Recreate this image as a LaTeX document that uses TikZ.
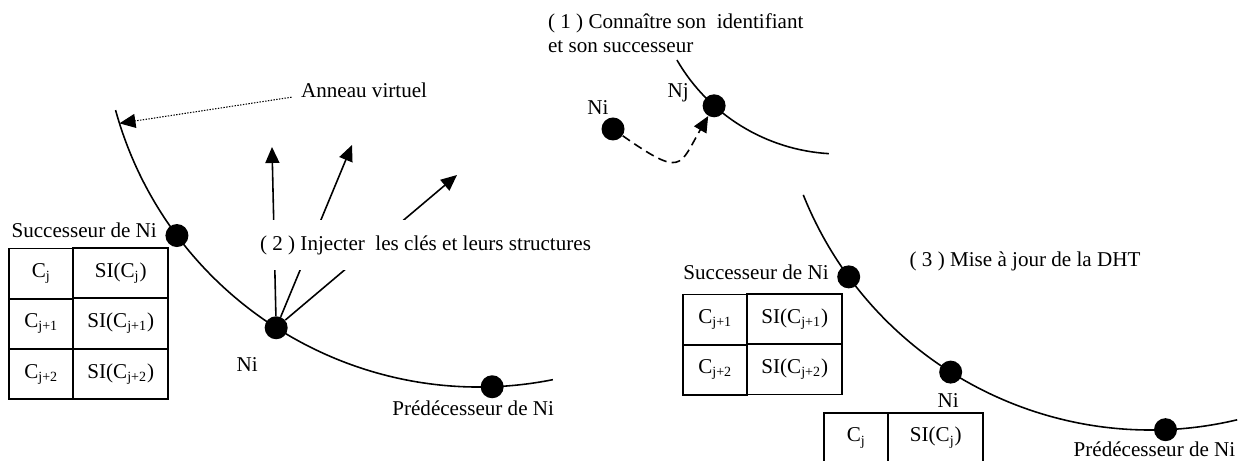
\documentclass[tikz,border=0pt]{standalone}
\usepackage{fontspec}
\setmainfont{Liberation Serif}
\usetikzlibrary{arrows.meta,positioning,calc,matrix}

\begin{document}
\begin{tikzpicture}[
  font=\fontsize{12}{13.8}\selectfont,
  ring/.style={line width=0.9pt},
  dot/.style={circle,fill=black,inner sep=0pt,minimum size=0.46cm},
  lbl/.style={inner sep=1pt},
  arrow/.style={-{Triangle[length=0.32cm,width=0.28cm]},line width=0.9pt},
  dasharrow/.style={arrow,dash pattern=on 5pt off 3pt},
  dotarrow/.style={arrow,line width=0.6pt,dash pattern=on 0.8pt off 0.8pt},
  keytable/.style={matrix of nodes,inner sep=0pt,column sep=-1pt,row sep=-1pt,
    nodes={draw,line width=1pt,minimum height=1cm,inner sep=0pt},
    column 1/.style={nodes={minimum width=1.28cm}},
    column 2/.style={nodes={minimum width=1.9cm}}}
]
  \useasboundingbox (0,0) rectangle (24.78,9.22);
  \clip (0,0) rectangle (24.78,9.22);

  % left: ring while Ni joins
  \coordinate (ringA) at (9.58,9.02);
  \draw[ring] ($(ringA)+(195.4:7.54)$) arc[start angle=195.4,end angle=281.3,radius=7.54];
  \coordinate (ringtop) at ($(ringA)+(197.5:7.54)$);
  \node[dot] (succA) at ($(ringA)+(216.75:7.54)$) {};
  \node[dot] (niA) at ($(ringA)+(237.45:7.54)$) {};
  \node[dot] (predA) at ($(ringA)+(272:7.54)$) {};
  \node[lbl,anchor=east] (succAlbl) at ($(succA)+(-0.36,0.1)$) {Successeur de Ni};
  \node[lbl] (niAlbl) at ($(niA)+(-0.58,-0.74)$) {Ni};
  \node[lbl] (predAlbl) at ($(predA)+(-0.38,-0.44)$) {Prédécesseur de Ni};
  \node[lbl,anchor=west] (anneau) at (5.98,7.42) {Anneau virtuel};
  \draw[dotarrow] ([xshift=-0.15cm]anneau.base west) -- (ringtop);
  \matrix[keytable,anchor=north west] (tabA) at (0.16,4.28) {
    C\textsubscript{j} & SI(C\textsubscript{j}) \\
    C\textsubscript{j+1} & SI(C\textsubscript{j+1}) \\
    C\textsubscript{j+2} & SI(C\textsubscript{j+2}) \\
  };

  % keys sent out from Ni
  \coordinate (upA) at (5.44,6.28);
  \coordinate (upB) at (7.04,6.32);
  \coordinate (upC) at (9.14,5.72);
  \foreach \t in {upA,upB,upC}
    \draw[arrow] (niA) -- (\t);
  \node[fill=white,minimum height=1cm,inner xsep=2pt] (inject) at (8.51,4.32)
    {( 2 ) Injecter~~les clés et leurs structures};

  % top right: Ni finds its place
  \coordinate (ringB) at (16.80,9.91);
  \draw[ring] ($(ringB)+(210.1:3.77)$) arc[start angle=210.1,end angle=266.6,radius=3.77];
  \node[dot] (njB) at ($(ringB)+(228.1:3.77)$) {};
  \node[dot] (niB) at (12.26,6.64) {};
  \node[lbl] (niBlbl) at ($(niB)+(-0.3,0.42)$) {Ni};
  \node[lbl] (njBlbl) at ($(njB)+(-0.72,0.26)$) {Nj};
  \draw[dasharrow] (niB) .. controls +(-35:1.7) and +(-120:1.4) .. (njB);
  \node[lbl,anchor=west,align=left] (join) at (10.92,8.55)
    {( 1 ) Connaître son~~identifiant\\et son successeur};

  % bottom right: DHT after the update
  \coordinate (ringC) at (23.01,8.10);
  \draw[ring] ($(ringC)+(201.8:7.48)$) arc[start angle=201.8,end angle=283.4,radius=7.48];
  \node[dot] (succC) at ($(ringC)+(216.2:7.48)$) {};
  \node[dot] (niC) at ($(ringC)+(237.7:7.48)$) {};
  \node[dot] (predC) at ($(ringC)+(272.3:7.48)$) {};
  \node[lbl,anchor=east] (succClbl) at ($(succC)+(-0.36,0.1)$) {Successeur de Ni};
  \node[lbl] (niClbl) at ($(niC)+(-0.05,-0.56)$) {Ni};
  \node[lbl] (predClbl) at ($(predC)+(-0.22,-0.4)$) {Prédécesseur de Ni};
  \node[lbl] (update) at (20.5,4.0) {( 3 ) Mise à jour de la DHT};
  \matrix[keytable,anchor=north west] (tabC) at (13.64,3.36) {
    C\textsubscript{j+1} & SI(C\textsubscript{j+1}) \\
    C\textsubscript{j+2} & SI(C\textsubscript{j+2}) \\
  };
  \matrix[keytable,anchor=north west] (tabD) at (16.46,0.99) {
    C\textsubscript{j} & SI(C\textsubscript{j}) \\
  };
\end{tikzpicture}
\end{document}
